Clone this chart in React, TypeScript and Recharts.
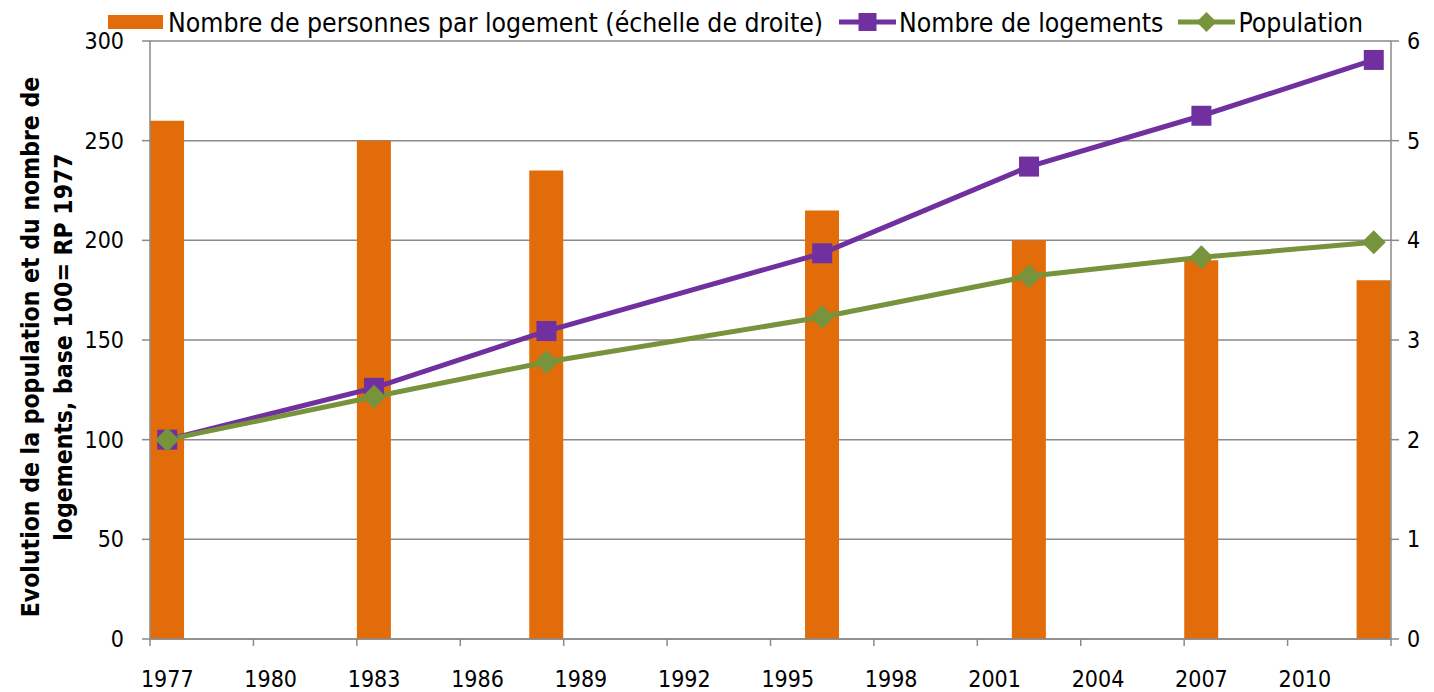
import React from "react";
import {
  ComposedChart,
  Bar,
  Line,
  XAxis,
  YAxis,
  CartesianGrid,
} from "recharts";

// recensements
const years = [1977, 1983, 1988, 1996, 2002, 2007, 2012];
const personnesParLogement = [5.2, 5.0, 4.7, 4.3, 4.0, 3.8, 3.6];
const nombreLogements = [100, 126, 154.5, 193.5, 237, 262.5, 290.5];
const population = [100, 121.5, 139, 161.5, 182, 191.5, 199];

// graduations (limites d'années, libellés au milieu)
const yearTicks = [
  1976.5, 1979.5, 1982.5, 1985.5, 1988.5, 1991.5, 1994.5, 1997.5, 2000.5,
  2003.5, 2006.5, 2009.5, 2012.5,
];
const leftTicks = [0, 50, 100, 150, 200, 250, 300];
const rightTicks = [0, 1, 2, 3, 4, 5, 6];

const data = years.map((year, i) => ({
  year,
  personnes: personnesParLogement[i],
  logements: nombreLogements[i],
  population: population[i],
}));

const ORANGE = "#E36C0A";
const PURPLE = "#7030A0";
const GREEN = "#77933C";
const GRAY = "#8A8A8A";
const FONT = "'DejaVu Sans Condensed', 'DejaVu Sans', sans-serif";

const WIDTH = 1418;
const HEIGHT = 684;
const LEFT_W = 142;
const RIGHT_W = 35;
const HALF_YEAR = (WIDTH - LEFT_W - RIGHT_W) / 36 / 2;

const XTick = (props: any) => {
  const { x, y, payload } = props;
  const label = payload.value + 0.5;
  if (label > 2010) return null;
  return (
    <text
      x={x + HALF_YEAR}
      y={y + 39}
      textAnchor="middle"
      fontSize={23}
      fontFamily={FONT}
      fill="#000"
    >
      {label}
    </text>
  );
};

const YTitle = (props: any) => {
  const cy = 339;
  return (
    <g fontFamily={FONT} fontSize={24.5} fontWeight="bold" fill="#000">
      <text
        x={22}
        y={cy}
        textAnchor="middle"
        dominantBaseline="central"
        transform={`rotate(-90 22 ${cy})`}
      >
        Evolution de la population et du nombre de
      </text>
      <text
        x={55}
        y={cy}
        textAnchor="middle"
        dominantBaseline="central"
        transform={`rotate(-90 55 ${cy})`}
      >
        logements, base 100= RP 1977
      </text>
    </g>
  );
};

const SquareDot = (props: any) => {
  const { cx, cy } = props;
  if (cx == null || cy == null) return null;
  return <rect x={cx - 10} y={cy - 10} width={20} height={20} fill={PURPLE} />;
};

const DiamondDot = (props: any) => {
  const { cx, cy } = props;
  if (cx == null || cy == null) return null;
  return (
    <polygon
      points={`${cx},${cy - 12} ${cx + 12},${cy} ${cx},${cy + 12} ${cx - 12},${cy}`}
      fill={GREEN}
    />
  );
};

const legendText: React.CSSProperties = {
  fontFamily: FONT,
  fontSize: 26.4,
  color: "#000",
  whiteSpace: "nowrap",
};

function Legend() {
  return (
    <div
      style={{
        position: "absolute",
        top: 0,
        left: 100,
        height: 28,
        display: "flex",
        alignItems: "center",
      }}
    >
      <svg width={55} height={14} style={{ marginRight: 5 }}>
        <rect x={0} y={0} width={55} height={14} fill={ORANGE} />
      </svg>
      <span style={legendText}>Nombre de personnes par logement (échelle de droite)</span>
      <svg width={57} height={20} style={{ marginLeft: 16, marginRight: 3 }}>
        <line x1={0} y1={10} x2={57} y2={10} stroke={PURPLE} strokeWidth={5} />
        <rect x={19.5} y={1} width={18} height={18} fill={PURPLE} />
      </svg>
      <span style={legendText}>Nombre de logements</span>
      <svg width={57} height={22} style={{ marginLeft: 15, marginRight: 3 }}>
        <line x1={0} y1={11} x2={57} y2={11} stroke={GREEN} strokeWidth={5} />
        <polygon points="28.5,1 38.5,11 28.5,21 18.5,11" fill={GREEN} />
      </svg>
      <span style={legendText}>Population</span>
    </div>
  );
}

export default function App() {
  const tickStyle = { fontSize: 23, fontFamily: FONT, fill: "#000" };
  return (
    <div style={{ position: "relative", width: WIDTH, height: HEIGHT }}>
      <ComposedChart
        width={WIDTH}
        height={HEIGHT}
        data={data}
        margin={{ top: 33, right: 0, bottom: 0, left: 0 }}
      >
        <CartesianGrid
          vertical={false}
          stroke={GRAY}
          strokeWidth={1.5}
          yAxisId="left"
        />
        <XAxis
          dataKey="year"
          type="number"
          domain={[1976.5, 2012.5]}
          ticks={yearTicks}
          allowDataOverflow
          height={53}
          tickSize={7}
          tick={<XTick />}
          axisLine={{ stroke: GRAY, strokeWidth: 1.5 }}
          tickLine={{ stroke: GRAY, strokeWidth: 1.5 }}
          interval={0}
        />
        <YAxis
          yAxisId="left"
          width={LEFT_W}
          domain={[0, 300]}
          ticks={leftTicks}
          tickSize={8}
          tickMargin={18}
          tick={tickStyle}
          axisLine={{ stroke: GRAY, strokeWidth: 1.5 }}
          tickLine={{ stroke: GRAY, strokeWidth: 1.5 }}
          label={<YTitle />}
        />
        <YAxis
          yAxisId="right"
          orientation="right"
          width={RIGHT_W}
          domain={[0, 6]}
          ticks={rightTicks}
          tickSize={8}
          tickMargin={8}
          tick={tickStyle}
          axisLine={{ stroke: GRAY, strokeWidth: 1.5 }}
          tickLine={{ stroke: GRAY, strokeWidth: 1.5 }}
        />
        <Bar
          yAxisId="right"
          dataKey="personnes"
          fill={ORANGE}
          barSize={34}
          isAnimationActive={false}
        />
        <Line
          yAxisId="left"
          dataKey="logements"
          type="linear"
          stroke={PURPLE}
          strokeWidth={5}
          dot={<SquareDot />}
          activeDot={false}
          isAnimationActive={false}
        />
        <Line
          yAxisId="left"
          dataKey="population"
          type="linear"
          stroke={GREEN}
          strokeWidth={5}
          dot={<DiamondDot />}
          activeDot={false}
          isAnimationActive={false}
        />
      </ComposedChart>
      <Legend />
    </div>
  );
}
